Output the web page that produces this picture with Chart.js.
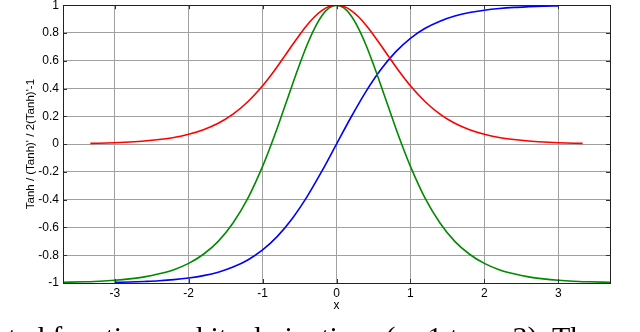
<!DOCTYPE html>
<html><head><meta charset="utf-8">
<script src="https://cdn.jsdelivr.net/npm/chart.js@4"></script>
<style>
html,body{margin:0;padding:0;background:#fff;overflow:hidden;width:640px;height:332px;}
#wrap{position:absolute;left:0;top:-6px;width:640px;height:338px;}
#cap{position:absolute;left:8px;top:322px;font:30px/1 "Liberation Serif",serif;white-space:nowrap;color:#000;}
</style></head><body>
<div id="wrap"><canvas id="c" width="640" height="338"></canvas></div>
<div id="cap">ted function and its derivatives (n=1 to n=3). The</div>
<script>
const xTicks = [-3, -2, -1, 0, 1, 2, 3];
const yTicks = [-1, -0.8, -0.6, -0.4, -0.2, 0, 0.2, 0.4, 0.6, 0.8, 1];
const yTickLabels = ['-1', '-0.8', '-0.6', '-0.4', '-0.2', '0', '0.2', '0.4', '0.6', '0.8', '1'];
const xTitle = 'x';
const yTitle = "Tanh / (Tanh)' / 2(Tanh)'-1";

// Tanh (blue)
const blueX = [-3,-2.8,-2.6,-2.4,-2.2,-2,-1.8,-1.6,-1.4,-1.2,-1,-0.8,-0.6,-0.4,-0.2,0,0.2,0.4,0.6,0.8,1,1.2,1.4,1.6,1.8,2,2.2,2.4,2.6,2.8,3];
const blueY = [-0.995,-0.993,-0.989,-0.984,-0.976,-0.964,-0.947,-0.922,-0.885,-0.834,-0.762,-0.664,-0.537,-0.380,-0.197,0,0.197,0.380,0.537,0.664,0.762,0.834,0.885,0.922,0.947,0.964,0.976,0.984,0.989,0.993,0.995];

// (Tanh)' (red)
const redX = [-3.33,-3,-2.8,-2.6,-2.4,-2.2,-2,-1.8,-1.6,-1.4,-1.2,-1,-0.9,-0.8,-0.7,-0.6,-0.5,-0.4,-0.3,-0.2,-0.1,0,0.1,0.2,0.3,0.4,0.5,0.6,0.7,0.8,0.9,1,1.2,1.4,1.6,1.8,2,2.2,2.4,2.6,2.8,3,3.33];
const redY = [0.005,0.010,0.015,0.022,0.033,0.048,0.071,0.104,0.150,0.216,0.305,0.420,0.487,0.559,0.635,0.712,0.786,0.856,0.915,0.961,0.990,1,0.990,0.961,0.915,0.856,0.786,0.712,0.635,0.559,0.487,0.420,0.305,0.216,0.150,0.104,0.071,0.048,0.033,0.022,0.015,0.010,0.005];

// 2(Tanh)'-1 (green)
const greenX = [-3.7,-3.4,-3.2,-3,-2.8,-2.6,-2.4,-2.2,-2,-1.8,-1.6,-1.4,-1.2,-1,-0.9,-0.8,-0.7,-0.6,-0.5,-0.4,-0.3,-0.2,-0.1,0,0.1,0.2,0.3,0.4,0.5,0.6,0.7,0.8,0.9,1,1.2,1.4,1.6,1.8,2,2.2,2.4,2.6,2.8,3,3.2,3.4,3.7];
const greenY = [-0.995,-0.991,-0.987,-0.980,-0.970,-0.956,-0.934,-0.904,-0.859,-0.793,-0.700,-0.568,-0.391,-0.160,-0.026,0.118,0.270,0.424,0.573,0.712,0.830,0.922,0.980,1,0.980,0.922,0.830,0.712,0.573,0.424,0.270,0.118,-0.026,-0.160,-0.391,-0.568,-0.700,-0.793,-0.859,-0.904,-0.934,-0.956,-0.970,-0.980,-0.987,-0.991,-0.995];

const pts = (xs, ys) => xs.map((x, i) => ({x: x, y: ys[i]}));
const font = {family: '"Liberation Sans", Arial, sans-serif', size: 12};

const frame = {
  id: 'frame',
  afterDraw(chart) {
    const {ctx, chartArea: a, scales} = chart;
    ctx.save();
    ctx.strokeStyle = '#333';
    ctx.lineWidth = 1;
    ctx.beginPath();
    xTicks.forEach(v => {
      const p = Math.round(scales.x.getPixelForValue(v)) + 0.5;
      ctx.moveTo(p, a.bottom); ctx.lineTo(p, a.bottom - 4);
      ctx.moveTo(p, a.top); ctx.lineTo(p, a.top + 4);
    });
    yTicks.forEach(v => {
      const p = Math.round(scales.y.getPixelForValue(v)) + 0.5;
      ctx.moveTo(a.left, p); ctx.lineTo(a.left + 4, p);
      ctx.moveTo(a.right, p); ctx.lineTo(a.right - 4, p);
    });
    ctx.stroke();
    ctx.strokeStyle = '#222';
    ctx.strokeRect(Math.round(a.left) + 0.5, Math.round(a.top) + 0.5, Math.round(a.right - a.left), Math.round(a.bottom - a.top));
    ctx.restore();
  }
};

new Chart(document.getElementById('c'), {
  type: 'line',
  data: {
    datasets: [
      {data: pts(redX, redY), borderColor: '#ff0000', borderWidth: 1.6, pointRadius: 0, cubicInterpolationMode: 'monotone', fill: false},
      {data: pts(greenX, greenY), borderColor: '#008a00', borderWidth: 1.6, pointRadius: 0, cubicInterpolationMode: 'monotone', fill: false},
      {data: pts(blueX, blueY), borderColor: '#0000ff', borderWidth: 1.6, pointRadius: 0, cubicInterpolationMode: 'monotone', fill: false}
    ]
  },
  options: {
    responsive: false,
    animation: false,
    layout: {padding: {left: 0, right: 30, top: 5, bottom: 0}},
    plugins: {legend: {display: false}, tooltip: {enabled: false}},
    scales: {
      x: {
        type: 'linear', min: -3.7, max: 3.7,
        afterBuildTicks: s => { s.ticks = xTicks.map(v => ({value: v})); },
        afterFit: s => { s.height = 49; },
        ticks: {font: font, color: '#000', padding: 3, maxRotation: 0, autoSkip: false},
        grid: {color: '#a0a0a0', drawTicks: false},
        border: {display: false},
        title: {display: true, text: xTitle, font: font, color: '#000', padding: {top: 0, bottom: 19}}
      },
      y: {
        type: 'linear', min: -1, max: 1,
        afterBuildTicks: s => { s.ticks = yTicks.map(v => ({value: v})); },
        afterFit: s => { s.width = 63; },
        ticks: {font: font, color: '#000', padding: 4, autoSkip: false, callback: (v, i) => yTickLabels[i]},
        grid: {color: '#a0a0a0', drawTicks: false},
        border: {display: false},
        title: {display: true, text: yTitle, font: {family: font.family, size: 11.5}, color: '#000', padding: {top: 24, bottom: 0}}
      }
    }
  },
  plugins: [frame]
});
</script>
</body></html>
